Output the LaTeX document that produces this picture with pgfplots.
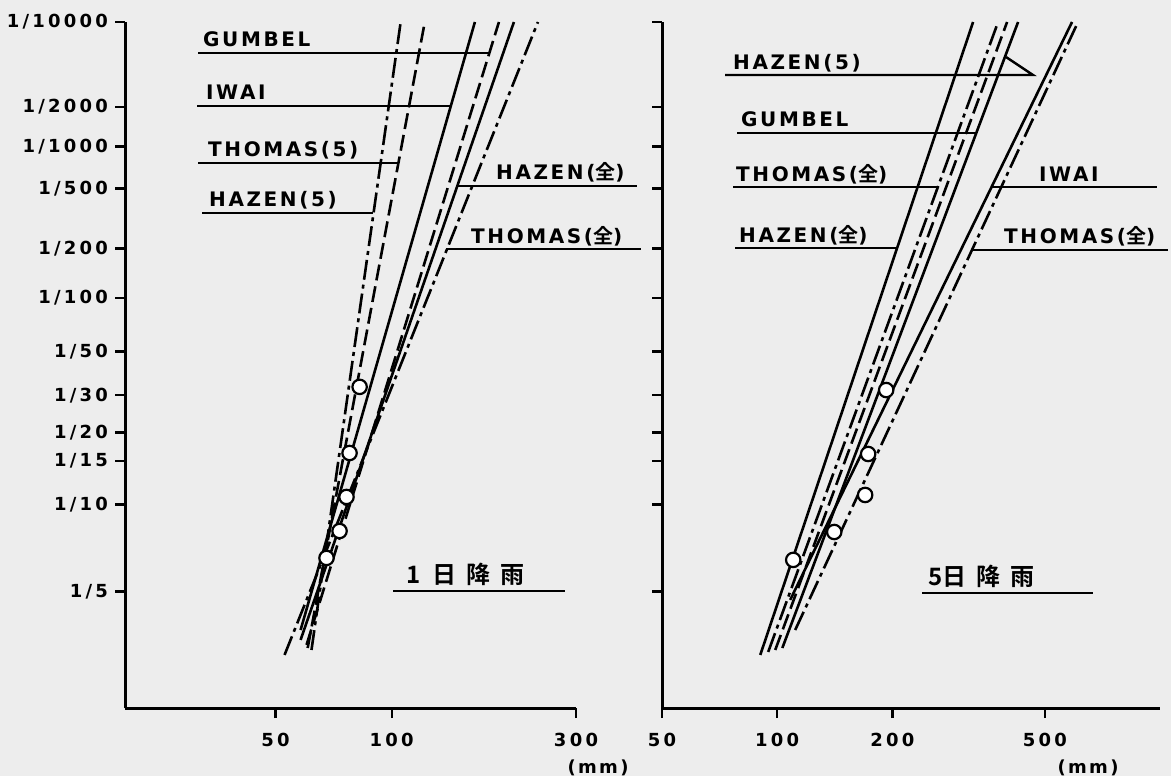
\documentclass[border=0pt]{standalone}
\usepackage{pgfplots}
\pgfplotsset{compat=1.18}
\usepackage{fontspec}
\setmainfont{DejaVu Sans}
\newfontfamily\lab[LetterSpace=13]{DejaVu Sans Bold}
\newfontfamily\tk[LetterSpace=18]{DejaVu Sans Bold}
\newfontfamily\jp{Noto Sans CJK JP Bold}

\tikzset{
  chain/.style={dash pattern=on 10pt off 2.5pt on 2pt off 2.5pt},
  ldash/.style={dash pattern=on 8pt off 3pt},
  fitline/.style={black, line width=1.3pt},
  obs/.style={draw=black, fill=white, line width=1.1pt},
}

\begin{document}
\begin{tikzpicture}[x=1pt,y=1pt]
\useasboundingbox[fill=black!7] (0,0) rectangle (585.5,388);

% ---------------- 1-day rainfall ----------------
\begin{axis}[
  scale only axis, xmode=log, ymin=0.254, ymax=3.719,
  axis x line=bottom, axis y line=left,
  axis line style={-, line width=1.5pt},
  clip=false, xminorticks=false, yminorticks=false,
  tick align=outside, major tick length=5pt,
  every tick/.style={black, line width=1.2pt},
  tick label style={font=\tk\fontsize{9}{10}\selectfont, black},
  xticklabel style={yshift=-4pt},
  at={(62.5pt,34pt)}, anchor=south west,
  width=225.5pt, height=343pt,
  xmin=20.4, xmax=300,
  xtick={50,100,300}, xticklabels={50,100,300},
  ytick={3.7190,3.2905,3.0902,2.8782,2.5758,2.3263,2.0537,1.8339,1.6449,1.5011,1.2816,0.8416},
  yticklabels={1/10000,1/2000,1/1000,1/500,1/200,1/100,1/50,1/30,1/20,1/15,1/10,1/5},
]
\addplot[fitline, chain] coordinates {(62.0,0.547) (105.5,3.719)};   % HAZEN(5)
\addplot[fitline, ldash] coordinates {(60.6,0.557) (121.8,3.719)};   % THOMAS(5)
\addplot[fitline]        coordinates {(58.1,0.648) (164.2,3.719)};   % IWAI
\addplot[fitline, ldash] coordinates {(60.2,0.573) (189.5,3.719)};   % GUMBEL
\addplot[fitline]        coordinates {(58.1,0.598) (207.2,3.719)};   % HAZEN(all)
\addplot[fitline, chain] coordinates {(52.8,0.522) (239.1,3.719)};   % THOMAS(all)
\addplot[only marks, mark=*, mark size=3.6pt, mark options={obs}]
  coordinates {(82.6,1.876) (77.8,1.542) (76.4,1.320) (73.3,1.148) (67.8,1.012)};
\end{axis}

% ---------------- 5-day rainfall ----------------
\begin{axis}[
  scale only axis, xmode=log, ymin=0.254, ymax=3.719,
  axis x line=bottom, axis y line=left,
  axis line style={-, line width=1.5pt},
  clip=false, xminorticks=false, yminorticks=false,
  tick align=outside, major tick length=5pt,
  every tick/.style={black, line width=1.2pt},
  tick label style={font=\tk\fontsize{9}{10}\selectfont, black},
  xticklabel style={yshift=-4pt},
  at={(331pt,34pt)}, anchor=south west,
  width=249pt, height=343pt,
  xmin=50, xmax=1000,
  xtick={50,100,200,500}, xticklabels={50,100,200,500},
  ytick={3.7190,3.2905,3.0902,2.8782,2.5758,2.3263,2.0537,1.8339,1.6449,1.5011,1.2816,0.8416},
  yticklabels={},
]
\addplot[fitline]        coordinates {(90.3,0.522) (324.9,3.719)};   % HAZEN(all)
\addplot[fitline, chain] coordinates {(94.7,0.537) (377.6,3.719)};   % THOMAS(all)
\addplot[fitline, ldash] coordinates {(98.8,0.547) (398.6,3.719)};   % GUMBEL
\addplot[fitline]        coordinates {(103.1,0.557) (425.8,3.719)};  % HAZEN(5)
\addplot[fitline]        coordinates {(108.1,0.800) (589.1,3.719)};  % IWAI
\addplot[fitline, chain] coordinates {(111.4,0.648) (610.7,3.719)};  % THOMAS(all)
\addplot[only marks, mark=*, mark size=3.6pt, mark options={obs}]
  coordinates {(192.6,1.860) (172.8,1.537) (169.7,1.330) (140.9,1.143) (110.1,1.002)};
\end{axis}

% ---------------- labels and leaders ----------------
\begin{scope}[yshift=388pt, x=0.5pt, y=-0.5pt, line width=1.2pt,
  every node/.style={inner sep=0pt, anchor=base west, font=\lab\fontsize{10}{12}\selectfont}]
  % 1-day panel
  \node at (202,47)  {GUMBEL};     \draw (198,53) -- (488,53);
  \node at (205,100) {IWAI};       \draw (197,106) -- (450,106);
  \node at (207,157) {THOMAS(5)};  \draw (198,163) -- (398,163);
  \node at (208,207) {HAZEN(5)};   \draw (202,213) -- (373,213);
  \node at (495,180) {HAZEN({\jp 全})};  \draw (456,186) -- (637,186);
  \node at (470,244) {THOMAS({\jp 全})}; \draw (446,249) -- (641,249);
  \node[font=\jp\fontsize{12}{13}\selectfont] at (405,584) {1\hspace{6pt}日\hspace{5pt}降\hspace{5pt}雨};
  \draw (393,591) -- (565,591);
  \node[font=\lab\fontsize{9}{10}\selectfont, anchor=center] at (598,768) {(mm)};
  % 5-day panel
  \node at (732,70)   {HAZEN(5)};  \draw (725,75) -- (1033,75) -- (1006,57);
  \node at (740,127)  {GUMBEL};    \draw (737,133) -- (976,133);
  \node at (735,182)  {THOMAS({\jp 全})}; \draw (733,187) -- (938,187);
  \node at (1038,182) {IWAI};      \draw (991,187) -- (1157,187);
  \node at (738,243)  {HAZEN({\jp 全})};  \draw (735,248) -- (897,248);
  \node at (1003,244) {THOMAS({\jp 全})}; \draw (972,250) -- (1168,250);
  \node[font=\jp\fontsize{12}{13}\selectfont] at (927,586) {5日\hspace{5pt}降\hspace{5pt}雨};
  \draw (922,593) -- (1093,593);
  \node[font=\lab\fontsize{9}{10}\selectfont, anchor=center] at (1088,768) {(mm)};
\end{scope}
\end{tikzpicture}
\end{document}
